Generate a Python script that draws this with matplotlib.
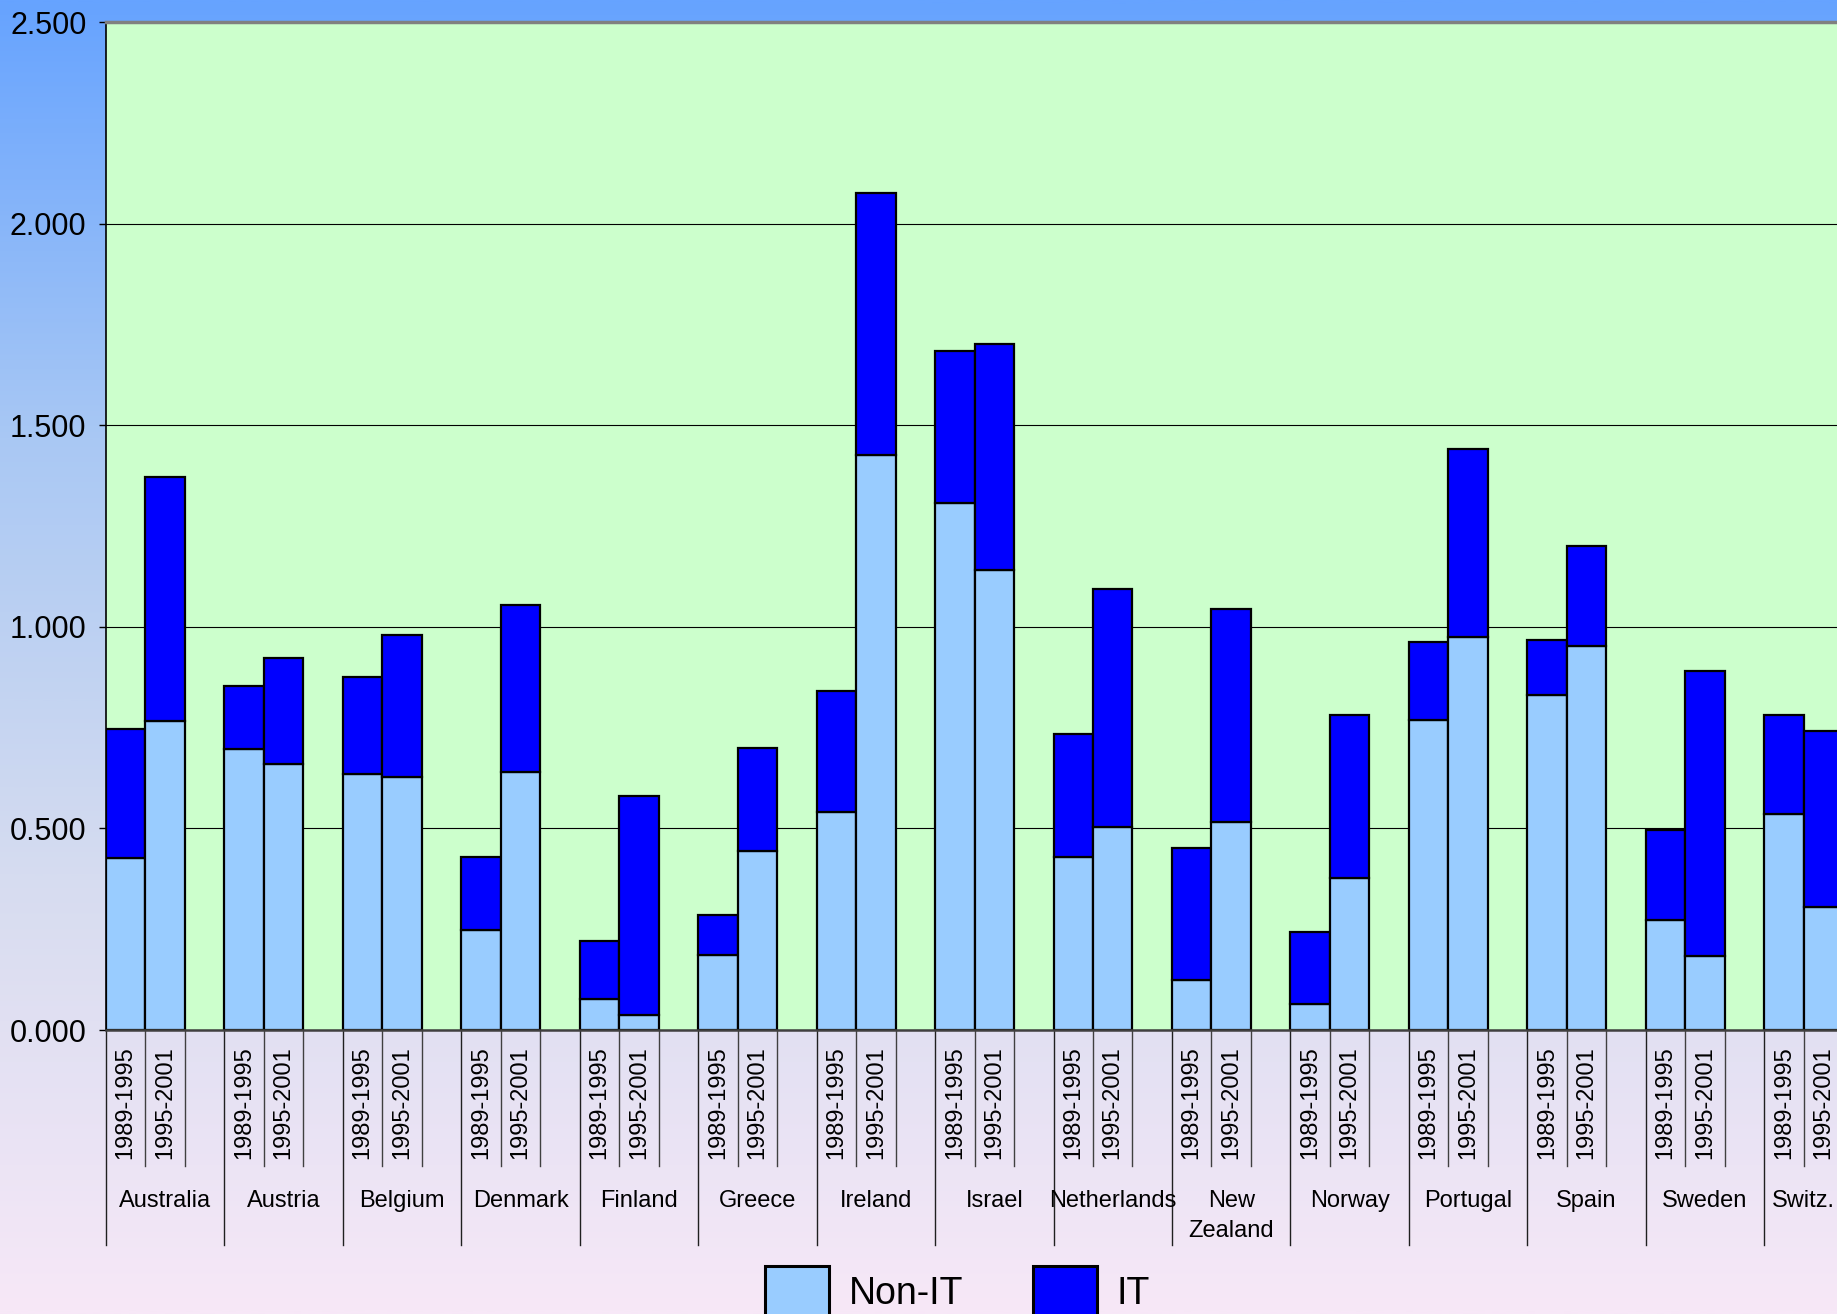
import numpy as np
import matplotlib.pyplot as plt
from matplotlib.colors import LinearSegmentedColormap
from matplotlib.patches import Rectangle

plt.rcParams['font.family'] = ['Liberation Sans', 'DejaVu Sans']

# ---------- data ----------
countries = ['Australia', 'Austria', 'Belgium', 'Denmark', 'Finland', 'Greece',
             'Ireland', 'Israel', 'Netherlands', 'New\nZealand', 'Norway',
             'Portugal', 'Spain', 'Sweden', 'Switz.']
periods = ['1989-1995', '1995-2001']

non_it_89 = [0.427, 0.698, 0.634, 0.247, 0.078, 0.186, 0.541, 1.308, 0.430,
             0.125, 0.064, 0.770, 0.831, 0.273, 0.535]
it_89 = [0.320, 0.154, 0.241, 0.183, 0.143, 0.099, 0.299, 0.375, 0.305,
         0.326, 0.180, 0.192, 0.137, 0.224, 0.247]
non_it_95 = [0.767, 0.660, 0.628, 0.640, 0.038, 0.445, 1.427, 1.140, 0.503,
             0.515, 0.378, 0.974, 0.953, 0.183, 0.305]
it_95 = [0.605, 0.262, 0.352, 0.415, 0.543, 0.255, 0.649, 0.561, 0.590,
         0.529, 0.404, 0.468, 0.248, 0.707, 0.436]

yticks = [0.0, 0.5, 1.0, 1.5, 2.0, 2.5]

W, H = 1837, 1314
fig = plt.figure(figsize=(W / 100, H / 100), dpi=100)

# gradient background (blue at top -> pale pink at bottom)
bg = fig.add_axes([0, 0, 1, 1])
bg.axis('off')
cmap = LinearSegmentedColormap.from_list('bg', ['#66A3FF', '#A9C8F4', '#D6DCF0', '#F7E8F7'])
bg.imshow(np.linspace(0, 1, 512).reshape(-1, 1), cmap=cmap, aspect='auto',
          extent=[0, 1, 0, 1])

# plot area: left edge 106px, zero line at 1030px, top at 22px, 3 units per country
unit = 39.48
ax = fig.add_axes([106 / W, (H - 1030) / H, 45 * unit / W, 1008 / H])
ax.set_facecolor('#CCFFCC')

n = len(countries)
x89 = np.arange(n) * 3 + 0.5
x95 = np.arange(n) * 3 + 1.5
bar_kw = dict(width=1.0, edgecolor='black', linewidth=1.6, zorder=3)
ax.bar(x89, non_it_89, color='#99CCFF', **bar_kw)
ax.bar(x89, it_89, bottom=non_it_89, color='#0000FF', **bar_kw)
ax.bar(x95, non_it_95, color='#99CCFF', **bar_kw)
ax.bar(x95, it_95, bottom=non_it_95, color='#0000FF', **bar_kw)

ax.set_xlim(0, 45)
ax.set_ylim(0, 2.5)
ax.set_yticks(yticks)
ax.set_yticklabels(['%.3f' % v for v in yticks], fontsize=22)
ax.tick_params(axis='y', length=5, width=1, pad=9, colors='black')
ax.set_xticks([])
ax.grid(axis='y', color='black', linewidth=0.8, zorder=0)
ax.set_axisbelow(True)

ax.spines['top'].set_color('#808080')
ax.spines['top'].set_linewidth(2.5)
ax.spines['right'].set_visible(False)
ax.spines['left'].set_color('black')
ax.spines['left'].set_linewidth(1.2)
ax.spines['bottom'].set_color('#404040')
ax.spines['bottom'].set_linewidth(1.8)
ax.spines['bottom'].set_zorder(4)

# multi-level category labels under the axis
tr = ax.get_xaxis_transform()
for i, name in enumerate(countries):
    start = 3 * i
    ax.plot([start, start], [0, -0.213], transform=tr, color='#202020',
            linewidth=1, clip_on=False)
    for k in (1, 2):
        ax.plot([start + k, start + k], [0, -0.135], transform=tr,
                color='#404040', linewidth=1, clip_on=False)
    ax.text(x89[i], -0.016, periods[0], transform=tr, rotation=90,
            ha='center', va='top', fontsize=17)
    ax.text(x95[i], -0.016, periods[1], transform=tr, rotation=90,
            ha='center', va='top', fontsize=17)
    # last group is cut by the figure edge, so its name sits in the visible part
    xc = start + 1.0 if i == n - 1 else start + 1.5
    ax.text(xc, -0.159, name, transform=tr, ha='center', va='top',
            fontsize=17, linespacing=1.45)

# legend (cut by the bottom edge, as in the picture)
for x0, col, lab in [(765, '#99CCFF', 'Non-IT'), (1033, '#0000FF', 'IT')]:
    fig.patches.append(Rectangle((x0 / W, (H - 1330) / H), 64 / W, 64 / H,
                                 transform=fig.transFigure, facecolor=col,
                                 edgecolor='black', linewidth=2.2))
    fig.text((x0 + 84) / W, (H - 1294) / H, lab, fontsize=27, va='center',
             ha='left')

fig.savefig('out.png', dpi=100)
